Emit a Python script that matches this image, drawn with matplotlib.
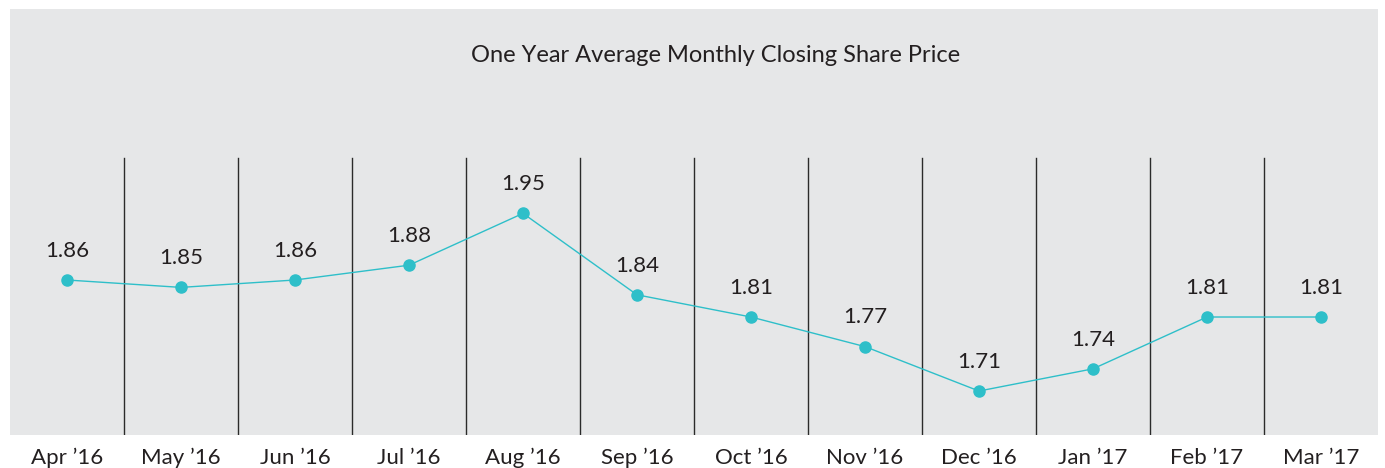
import matplotlib
matplotlib.use('Agg')
import matplotlib.pyplot as plt

# data
months = ['Apr \u201916', 'May \u201916', 'Jun \u201916', 'Jul \u201916', 'Aug \u201916', 'Sep \u201916',
          'Oct \u201916', 'Nov \u201916', 'Dec \u201916', 'Jan \u201917', 'Feb \u201917', 'Mar \u201917']
prices = [1.86, 1.85, 1.86, 1.88, 1.95, 1.84, 1.81, 1.77, 1.71, 1.74, 1.81, 1.81]
title = 'One Year Average Monthly Closing Share Price'

plt.rcParams['font.family'] = ['Lato', 'DejaVu Sans']
txt = '#231f20'
teal = '#2ebfc9'

fig = plt.figure(figsize=(13.85, 4.68), dpi=100)
fig.patch.set_facecolor('white')
ax = fig.add_axes([10 / 1385, 33 / 468, 1368 / 1385, 426 / 468])
ax.set_facecolor('#e6e7e8')
for s in ax.spines.values():
    s.set_visible(False)

x = list(range(len(months)))
ax.set_xlim(-0.5, len(months) - 0.5)
ax.set_ylim(1.6506, 2.2261)

# column separators
for i in range(len(months) - 1):
    ax.axvline(i + 0.5, ymin=0, ymax=0.65, color='#2b2b2b', lw=1.0)

ax.plot(x, prices, color=teal, lw=1.0, marker='o', ms=8, mfc=teal, mec=teal, zorder=3)
for xi, v in zip(x, prices):
    ax.annotate('%.2f' % v, (xi, v), xytext=(0, 21), textcoords='offset points',
                ha='center', va='center', fontsize=16, color=txt)

ax.set_xticks(x)
ax.set_xticklabels(months, fontsize=16, color=txt)
ax.tick_params(axis='x', length=0, pad=9)
ax.set_yticks([])

ax.text((716 - 10) / 1368, 1 - 47 / 426, title, transform=ax.transAxes, ha='center', va='center',
        fontsize=17, color=txt)

fig.savefig('out.png', dpi=100, facecolor='white')
